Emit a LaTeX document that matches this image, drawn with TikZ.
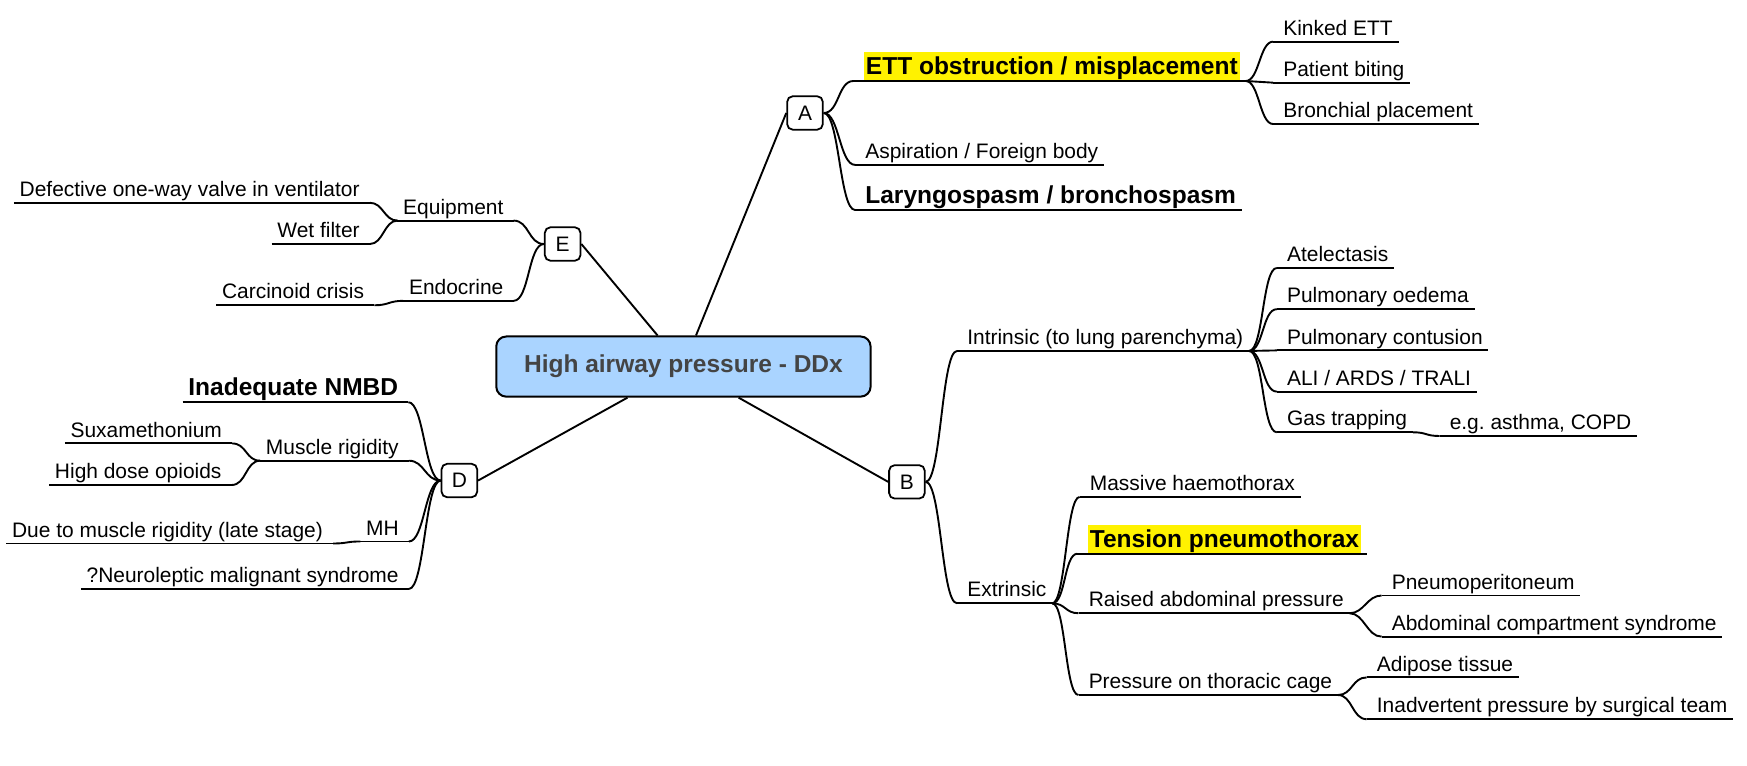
\documentclass[tikz,border=0pt]{standalone}
\usepackage{fontspec}
\setmainfont{Liberation Sans}
\frenchspacing

\definecolor{rootfill}{RGB}{170,212,255}
\definecolor{roottext}{RGB}{68,68,68}
\newcommand{\hilite}[1]{{\fboxsep=0pt\colorbox{yellow}{\rule[-5pt]{0pt}{25pt}\kern2pt#1\kern2pt}}}

\begin{document}
\begin{tikzpicture}[x=1pt,y=-1pt]
        \tikzset{root/.style = {draw, rounded corners=9pt, fill=rootfill, text=roottext, line width=1.8pt, minimum width=336pt, minimum height=54pt, font=\fontsize{22}{26}\selectfont\bfseries}}
        \tikzset{letter/.style = {draw, rounded corners=5pt, fill=white, line width=1.6pt, minimum width=32pt, minimum height=30pt, inner sep=0pt, font=\fontsize{18.8}{22}\selectfont}}
        \tikzset{leaf/.style = {inner xsep=0pt, inner ysep=1.5pt, text height=14pt, text depth=4pt, font=\fontsize{18.8}{22}\selectfont}}
        \tikzset{rleaf/.style = {leaf, anchor=south west, execute at begin node=\kern9pt, execute at end node=\kern5pt}}
        \tikzset{lleaf/.style = {leaf, anchor=south east, execute at begin node=\kern5pt, execute at end node=\kern9pt}}
        \tikzset{big/.style = {text height=16pt, font=\fontsize{22}{26}\selectfont\bfseries}}
        \tikzset{edge/.style = {line width=1.7pt}}
        \useasboundingbox (0,0) rectangle (1568,687.5);
        % vertices
        \node[root] (ddx) at (613.4,329) {High airway pressure - DDx};
        \node[letter] (a) at (722.5,101.4) {A};
        \node[letter] (b) at (814,432.5) {B};
        \node[letter] (d) at (412.3,431.3) {D};
        \node[letter] (e) at (505,219) {E};
        % A
        \node[rleaf,big] (ett) at (766,72.7) {\hilite{ETT obstruction / misplacement}};
        \node[rleaf] (asp) at (767.5,148) {Aspiration / Foreign body};
        \node[rleaf,big] (lar) at (767.5,188.5) {Laryngospasm / bronchospasm};
        \node[rleaf] (kink) at (1142.6,37.4) {Kinked ETT};
        \node[rleaf] (bite) at (1142.6,74.2) {Patient biting};
        \node[rleaf] (bron) at (1142.6,111.3) {Bronchial placement};
        % B
        \node[rleaf] (intr) at (859,315) {Intrinsic (to lung parenchyma)};
        \node[rleaf] (extr) at (859,541.5) {Extrinsic};
        \node[rleaf] (atel) at (1146,240.5) {Atelectasis};
        \node[rleaf] (oede) at (1146,277.5) {Pulmonary oedema};
        \node[rleaf] (cont) at (1146,314.5) {Pulmonary contusion};
        \node[rleaf] (ards) at (1146,351.5) {ALI / ARDS / TRALI};
        \node[rleaf] (gas) at (1146,388) {Gas trapping};
        \node[rleaf] (copd) at (1292,391.3) {e.g. asthma, COPD};
        \node[rleaf] (haem) at (969,446) {Massive haemothorax};
        \node[rleaf,big] (tens) at (967,497) {\hilite{Tension pneumothorax}};
        \node[rleaf] (abdo) at (968,550.4) {Raised abdominal pressure};
        \node[rleaf] (cage) at (968,623.8) {Pressure on thoracic cage};
        \node[rleaf] (pneu) at (1240,534.5) {Pneumoperitoneum};
        \node[rleaf] (acs) at (1240,571.4) {Abdominal compartment syndrome};
        \node[rleaf] (fat) at (1226.6,608) {Adipose tissue};
        \node[rleaf] (team) at (1226.6,645.5) {Inadvertent pressure by surgical team};
        % D
        \node[lleaf,big] (nmbd) at (366.5,361) {Inadequate NMBD};
        \node[lleaf] (musc) at (367,413.5) {Muscle rigidity};
        \node[lleaf] (mh) at (367,486) {MH};
        \node[lleaf] (nms) at (367,528.6) {?Neuroleptic malignant syndrome};
        \node[lleaf] (sux) at (208.4,398) {Suxamethonium};
        \node[lleaf] (opio) at (208,435.3) {High dose opioids};
        \node[lleaf] (late) at (299,487.8) {Due to muscle rigidity (late stage)};
        % E
        \node[lleaf] (equip) at (461,198) {Equipment};
        \node[lleaf] (endo) at (461,270) {Endocrine};
        \node[lleaf] (valve) at (332,182) {Defective one-way valve in ventilator};
        \node[lleaf] (wet) at (332,219) {Wet filter};
        \node[lleaf] (carc) at (336,274) {Carcinoid crisis};
        % underlines
        \foreach \n in {ett,asp,lar,kink,bite,bron,intr,extr,atel,oede,cont,ards,gas,copd,haem,tens,abdo,cage,pneu,acs,fat,team,nmbd,musc,mh,nms,sux,opio,late,equip,endo,valve,wet,carc}
            \draw[edge] (\n.south west) -- (\n.south east);
        % edges
        \draw[edge] (ddx) -- (a.west);
        \draw[edge] (ddx) -- (b.west);
        \draw[edge] (ddx) -- (d.east);
        \draw[edge] (ddx) -- (e.east);
        \foreach \c in {ett,asp,lar}
            \draw[edge] (a.east) .. controls +(14,0) and +(-14,0) .. (\c.south west);
        \foreach \c in {kink,bite,bron}
            \draw[edge] (ett.south east) .. controls +(12,0) and +(-12,0) .. (\c.south west);
        \foreach \c in {intr,extr}
            \draw[edge] (b.east) .. controls +(14,0) and +(-14,0) .. (\c.south west);
        \foreach \c in {atel,oede,cont,ards,gas}
            \draw[edge] (intr.south east) .. controls +(13,0) and +(-13,0) .. (\c.south west);
        \draw[edge] (gas.south east) .. controls +(13,0) and +(-13,0) .. (copd.south west);
        \foreach \c in {haem,tens,abdo,cage}
            \draw[edge] (extr.south east) .. controls +(12,0) and +(-12,0) .. (\c.south west);
        \foreach \c in {pneu,acs}
            \draw[edge] (abdo.south east) .. controls +(13,0) and +(-13,0) .. (\c.south west);
        \foreach \c in {fat,team}
            \draw[edge] (cage.south east) .. controls +(13,0) and +(-13,0) .. (\c.south west);
        \foreach \c in {nmbd,musc,mh,nms}
            \draw[edge] (d.west) .. controls +(-14,0) and +(14,0) .. (\c.south east);
        \foreach \c in {sux,opio}
            \draw[edge] (musc.south west) .. controls +(-13,0) and +(13,0) .. (\c.south east);
        \draw[edge] (mh.south west) .. controls +(-13,0) and +(13,0) .. (late.south east);
        \foreach \c in {equip,endo}
            \draw[edge] (e.west) .. controls +(-14,0) and +(14,0) .. (\c.south east);
        \foreach \c in {valve,wet}
            \draw[edge] (equip.south west) .. controls +(-12,0) and +(12,0) .. (\c.south east);
        \draw[edge] (endo.south west) .. controls +(-13,0) and +(13,0) .. (carc.south east);
    \end{tikzpicture}
\end{document}
